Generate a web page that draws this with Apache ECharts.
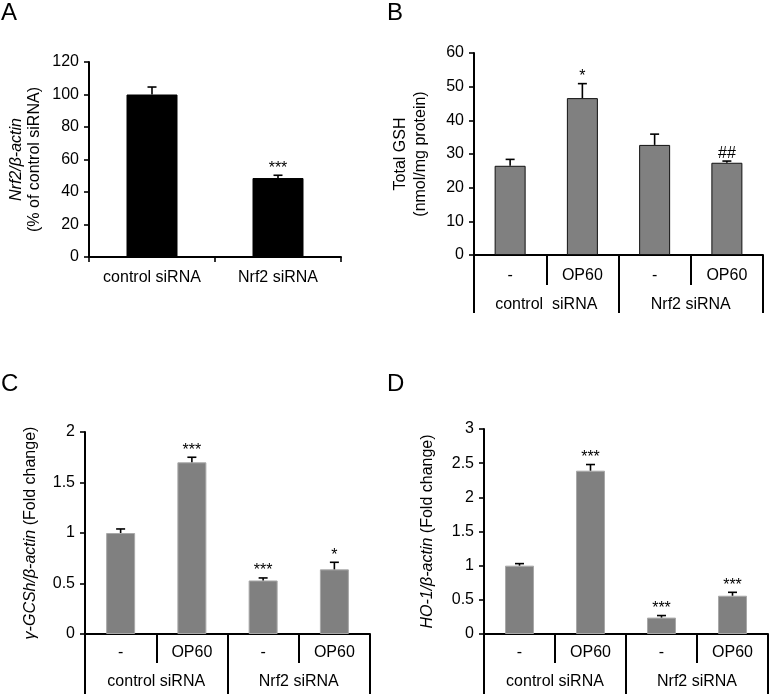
<!DOCTYPE html>
<html>
<head>
<meta charset="utf-8">
<script src="https://cdn.jsdelivr.net/npm/echarts@6/dist/echarts.min.js"></script>
<style>
html, body { margin: 0; padding: 0; background: #fff; }
#chart { width: 771px; height: 694px; }
</style>
</head>
<body>
<div id="chart"></div>
<script>
// panel A: Nrf2 knockdown
const aCats = ['control siRNA', 'Nrf2 siRNA'];
const aMean = [100, 48.6];
const aErr = [4.6, 1.7];
const aSig = ['', '***'];

// panels B-D share the treatment layout
const treatCats = ['-', 'OP60', '-', 'OP60'];
const bGroups = ['control  siRNA', 'Nrf2 siRNA'];
const cdGroups = ['control siRNA', 'Nrf2 siRNA'];

// panel B: total GSH
const bMean = [26.5, 46.6, 32.7, 27.4];
const bErr = [1.9, 4.3, 3.2, 0.5];
const bSig = ['', '*', '', '##'];

// panel C: gamma-GCSh
const cMean = [1.0, 1.70, 0.53, 0.64];
const cErr = [0.04, 0.05, 0.025, 0.07];
const cSig = ['', '***', '***', '*'];

// panel D: HO-1
const dMean = [1.0, 2.39, 0.24, 0.56];
const dErr = [0.03, 0.09, 0.03, 0.05];
const dSig = ['', '***', '***', '***'];

const FONT = 'Liberation Sans';
const FS = 16;
const black = '#000';

// error bar + significance mark, drawn through the axes
function errRender(sig) {
  return function (params, api) {
    const base = api.coord([api.value(0), api.value(1)]);
    const top = api.coord([api.value(0), api.value(2)]);
    const half = 4.5;
    const style = { stroke: black, lineWidth: 1.6 };
    return {
      type: 'group',
      children: [
        { type: 'line', shape: { x1: base[0], y1: base[1], x2: top[0], y2: top[1] }, style: style },
        { type: 'line', shape: { x1: top[0] - half, y1: top[1], x2: top[0] + half, y2: top[1] }, style: style },
        {
          type: 'text', x: top[0], y: top[1] + 1,
          style: { text: sig[params.dataIndex], fill: black, font: FS + 'px ' + FONT, align: 'center', verticalAlign: 'bottom' }
        }
      ]
    };
  };
}

function errData(mean, err) {
  return mean.map((m, i) => [i, m, m + err[i]]);
}

function yAxis(gridIndex, max, interval, name, gap, lh) {
  return {
    type: 'value', gridIndex: gridIndex, min: 0, max: max, interval: interval,
    name: name, nameLocation: 'middle', nameGap: gap, nameRotate: 90,
    nameTextStyle: {
      fontFamily: FONT, fontSize: FS, color: black, lineHeight: lh,
      rich: {
        i: { fontFamily: FONT, fontSize: FS, fontStyle: 'italic', color: black, lineHeight: lh },
        n: { fontFamily: FONT, fontSize: FS, color: black, lineHeight: lh }
      }
    },
    axisLine: { show: true, lineStyle: { color: black, width: 2 } },
    axisTick: { show: true, inside: false, length: 5, lineStyle: { color: black, width: 1.6 } },
    axisLabel: { fontFamily: FONT, fontSize: FS, color: black, margin: 10 },
    splitLine: { show: false }
  };
}

// two stacked category rows under the axis, ticks make the table dividers
function tableAxes(gridIndex, groups, shortLen, longLen, m1, m2) {
  return [
    {
      type: 'category', gridIndex: gridIndex, position: 'bottom', data: treatCats,
      axisLine: { show: true, lineStyle: { color: black, width: 2 } },
      axisTick: { show: true, length: shortLen, lineStyle: { color: black, width: 2 } },
      axisLabel: { interval: 0, fontFamily: FONT, fontSize: FS, color: black, margin: m1 }
    },
    {
      type: 'category', gridIndex: gridIndex, position: 'bottom', data: groups,
      axisLine: { show: false },
      axisTick: { show: true, length: longLen, lineStyle: { color: black, width: 2 } },
      axisLabel: { interval: 0, fontFamily: FONT, fontSize: FS, color: black, margin: m2 }
    }
  ];
}

function panelSeries(xi, yi, mean, err, sig, width, color, border) {
  return [
    {
      type: 'bar', xAxisIndex: xi, yAxisIndex: yi, data: mean, barWidth: width,
      itemStyle: { color: color, borderColor: border, borderWidth: 1 },
      animation: false
    },
    {
      type: 'custom', xAxisIndex: xi, yAxisIndex: yi, data: errData(mean, err),
      renderItem: errRender(sig), z: 5, animation: false
    }
  ];
}

const letter = (t, left, top) => ({
  text: t, left: left, top: top, padding: 0,
  textStyle: { fontFamily: FONT, fontSize: 24, fontWeight: 'normal', color: black }
});

const option = {
  backgroundColor: '#fff',
  animation: false,
  title: [letter('A', 1, 1), letter('B', 387, 1), letter('C', 1, 372), letter('D', 387, 372)],
  grid: [
    { left: 89, top: 62, width: 252, height: 195, outerBoundsMode: 'none' },
    { left: 474, top: 53, width: 289, height: 202, outerBoundsMode: 'none' },
    { left: 85, top: 432, width: 285, height: 202, outerBoundsMode: 'none' },
    { left: 484, top: 429, width: 284, height: 205, outerBoundsMode: 'none' }
  ],
  xAxis: [
    {
      type: 'category', gridIndex: 0, position: 'bottom', data: aCats,
      axisLine: { show: true, lineStyle: { color: black, width: 2 } },
      axisTick: { show: true, length: 5, lineStyle: { color: black, width: 1.6 } },
      axisLabel: { interval: 0, fontFamily: FONT, fontSize: FS, color: black, margin: 13 }
    },
    ...tableAxes(1, bGroups, 30, 58, 13, 42),
    ...tableAxes(2, cdGroups, 29, 64, 11, 40),
    ...tableAxes(3, cdGroups, 29, 64, 11, 40)
  ],
  yAxis: [
    yAxis(0, 120, 20, '{i|Nrf2/β-actin}\n{n|(% of control siRNA)}', 45, 18),
    yAxis(1, 60, 10, '{n|Total GSH}\n{n|(nmol/mg protein)}', 43, 20),
    yAxis(2, 2, 0.5, '{i|γ-GCSh/β-actin} {n|(Fold change)}', 45, 18),
    yAxis(3, 3, 0.5, '{i|HO-1/β-actin} {n|(Fold change)}', 47, 18)
  ],
  series: [
    ...panelSeries(0, 0, aMean, aErr, aSig, 51, '#000', '#000'),
    ...panelSeries(1, 1, bMean, bErr, bSig, 31, '#808080', '#111'),
    ...panelSeries(3, 2, cMean, cErr, cSig, 29, '#808080', '#a8a8a8'),
    ...panelSeries(5, 3, dMean, dErr, dSig, 29, '#808080', '#a8a8a8')
  ]
};

const myChart = echarts.init(document.getElementById('chart'));
myChart.setOption(option);
</script>
</body>
</html>
